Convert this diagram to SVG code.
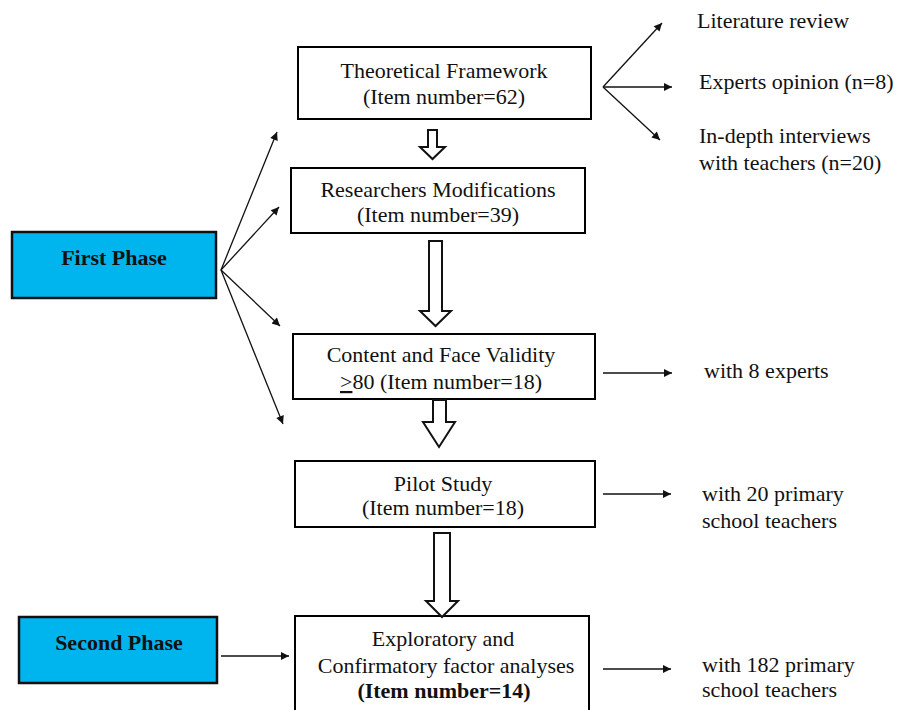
<svg xmlns="http://www.w3.org/2000/svg" width="901" height="710" viewBox="0 0 901 710">
<style>
text{font-family:"Liberation Serif","Times New Roman",serif;font-size:22px;fill:#111}
.c{text-anchor:middle}
.b{font-weight:bold}
.box{fill:#fff;stroke:#000;stroke-width:2}
.phase{fill:#00B4EE;stroke:#111;stroke-width:2.5}
.ln{stroke:#111;stroke-width:1.3;fill:none;marker-end:url(#ah)}
.hol{fill:#fff;stroke:#111;stroke-width:2;stroke-linejoin:miter}
</style>
<defs>
<marker id="ah" viewBox="0 0 10 10" refX="10" refY="5" markerWidth="10" markerHeight="8" markerUnits="userSpaceOnUse" orient="auto">
<path d="M0,0 L10,5 L0,10 Z" fill="#111"/>
</marker>
</defs>
<rect width="901" height="710" fill="#fff"/>

<g id="theoretical-framework">
<rect class="box" x="298" y="47" width="293" height="72"/>
<text class="c" x="444" y="78">Theoretical Framework</text>
<text class="c" x="444" y="104">(Item number=62)</text>
</g>

<g id="researchers-modifications">
<rect class="box" x="291" y="168" width="294" height="65"/>
<text class="c" x="438" y="197">Researchers Modifications</text>
<text class="c" x="438" y="222">(Item number=39)</text>
</g>

<g id="content-face-validity">
<rect class="box" x="293" y="334" width="302" height="65"/>
<text class="c" x="441" y="362">Content and Face Validity</text>
<text class="c" x="441" y="389"><tspan text-decoration="underline">&gt;</tspan>80 (Item number=18)</text>
</g>

<g id="pilot-study">
<rect class="box" x="295" y="461" width="300" height="66"/>
<text class="c" x="443" y="491">Pilot Study</text>
<text class="c" x="443" y="515">(Item number=18)</text>
</g>

<g id="factor-analyses">
<rect class="box" x="295" y="616" width="294" height="110"/>
<text class="c" x="443" y="646">Exploratory and</text>
<text class="c" x="446" y="673">Confirmatory factor analyses</text>
<text class="c b" x="444" y="698">(Item number=14)</text>
</g>

<g id="first-phase">
<rect class="phase" x="12" y="232" width="204" height="66"/>
<text class="c b" x="114" y="265">First Phase</text>
</g>

<g id="second-phase">
<rect class="phase" x="19" y="617" width="198" height="66"/>
<text class="c b" x="119" y="650">Second Phase</text>
</g>

<g id="literature-review"><text x="697" y="28">Literature review</text></g>
<g id="experts-opinion"><text x="699" y="89">Experts opinion (n=8)</text></g>
<g id="interviews"><text x="699" y="143">In-depth interviews</text><text x="699" y="170">with teachers (n=20)</text></g>
<g id="with-8-experts"><text x="704" y="378">with 8 experts</text></g>
<g id="with-20-teachers"><text x="702" y="501">with 20 primary</text><text x="702" y="528">school teachers</text></g>
<g id="with-182-teachers"><text x="702" y="672">with 182 primary</text><text x="702" y="697">school teachers</text></g>

<g id="connectors">
<path class="hol" d="M428,130 L437,130 L437,147 L445,147 L432.5,159 L420,147 L428,147 Z"/>
<path class="hol" d="M429,241 L442,241 L442,311 L451,311 L435.5,326 L420,311 L429,311 Z"/>
<path class="hol" d="M433,400 L446,400 L446,422 L455,422 L439,447 L423,422 L433,422 Z"/>
<path class="hol" d="M434,533 L450,533 L450,601 L458,601 L442,617 L426,601 L434,601 Z"/>

<line class="ln" x1="603" y1="87" x2="662" y2="23"/>
<line class="ln" x1="603" y1="87" x2="672" y2="87"/>
<line class="ln" x1="603" y1="87" x2="660" y2="140"/>

<line class="ln" x1="221" y1="270" x2="277" y2="132"/>
<line class="ln" x1="221" y1="270" x2="279" y2="207"/>
<line class="ln" x1="221" y1="270" x2="280" y2="326"/>
<line class="ln" x1="221" y1="270" x2="283" y2="424"/>

<line class="ln" x1="221" y1="656" x2="289" y2="656"/>

<line class="ln" x1="603" y1="373" x2="672" y2="373"/>
<line class="ln" x1="603" y1="494" x2="671" y2="494"/>
<line class="ln" x1="603" y1="669" x2="671" y2="669"/>
</g>
</svg>
